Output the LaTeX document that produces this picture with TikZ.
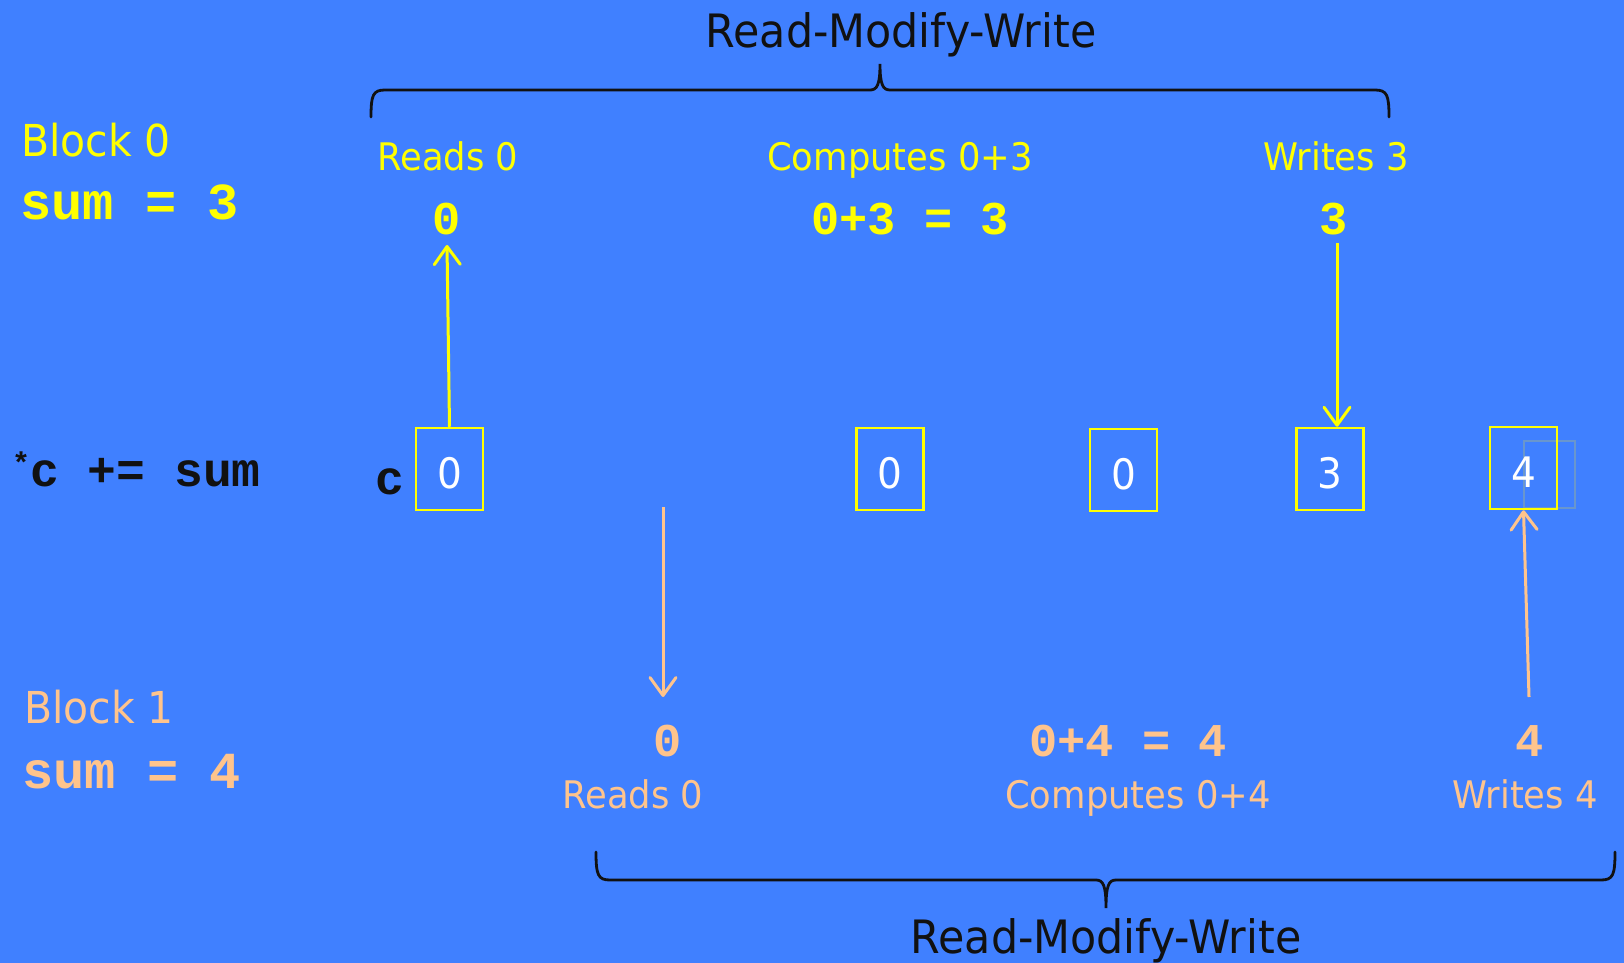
\documentclass[tikz,border=0pt]{standalone}
\usepackage{fontspec}
\setmainfont{DejaVu Sans}[FakeStretch=0.93]
\newfontfamily\monofont{Liberation Mono}
\usetikzlibrary{arrows.meta}
\definecolor{bg}{RGB}{64,128,255}
\definecolor{yel}{RGB}{255,255,0}
\definecolor{peach}{RGB}{255,196,140}
\definecolor{faintc}{RGB}{105,150,205}
\definecolor{ink}{RGB}{17,17,17}
\begin{document}
\begin{tikzpicture}[x=1pt,y=-1pt,
  txt/.style={anchor=base,inner sep=0pt},
  rmw/.style={txt,text=ink,font=\fontsize{46}{48}\selectfont},
  blk/.style={txt,anchor=base west,font=\fontsize{44}{46}\selectfont},
  lab/.style={txt,font=\fontsize{38}{40}\selectfont},
  summ/.style={txt,anchor=base west,font=\monofont\bfseries\fontsize{52}{54}\selectfont},
  val/.style={txt,font=\monofont\bfseries\fontsize{47}{50}\selectfont},
  cell/.style={draw=yel,line width=2.5pt,minimum width=67pt,minimum height=82pt,inner sep=0pt,text height=38pt,text depth=0pt,text=white,font=\fontsize{42}{44}\selectfont},
  yarrow/.style={draw=yel,line width=3pt,-{Straight Barb[length=18pt,width=26pt,round]}},
  oarrow/.style={draw=peach,line width=3pt,-{Straight Barb[length=18pt,width=26pt,round]}},
  bracec/.style={draw=ink,line width=2.8pt,line cap=round}]
\fill[bg] (0,0) rectangle (1624,963);
\useasboundingbox (0,0) rectangle (1624,963);
% braces
\draw[bracec] (371,117) .. controls (371,95) and (373,90) .. (385,90) -- (870,90)
  .. controls (877,90) and (880,85) .. (880,64) .. controls (880,85) and (883,90) .. (890,90)
  -- (1375,90) .. controls (1387,90) and (1389,95) .. (1389,117);
\draw[bracec] (596,852) .. controls (596,875) and (598,880) .. (610,880) -- (1096,880)
  .. controls (1103,880) and (1106,885) .. (1106,908) .. controls (1106,885) and (1109,880) .. (1116,880)
  -- (1601,880) .. controls (1613,880) and (1615,875) .. (1615,852);
\node[rmw] (rmw1) at (901,48) {Read-Modify-Write};
\node[rmw] (rmw2) at (1106,953) {Read-Modify-Write};
% block 0
\node[blk,text=yel] (blk0) at (21,157) {Block 0};
\node[summ,text=yel] (sum0) at (20,219) {sum = 3};
\node[lab,text=yel] (r0) at (448,170) {Reads 0};
\node[lab,text=yel] (c0) at (900,170) {Computes 0+3};
\node[lab,text=yel] (w0) at (1336,170) {Writes 3};
\node[val,text=yel] (v0) at (447,234) {0};
\node[val,text=yel] (v1) at (910,234) {0+3 = 3};
\node[val,text=yel] (v2) at (1334,234) {3};
% middle row
\node[txt,anchor=base west,text=ink,font=\monofont\bfseries\fontsize{48}{50}\selectfont] (cs) at (12,486)
  {{\fontsize{30}{30}\selectfont\raisebox{13pt}{*}}c += sum};
\node[txt,text=ink,font=\monofont\bfseries\fontsize{48}{50}\selectfont] (clab) at (390,494) {c};
\node[draw=faintc,line width=2pt,minimum width=51pt,minimum height=67pt,inner sep=0pt] (fb) at (1549.5,474.5) {};
\node[cell] (b1) at (449.5,469) {0};
\node[cell] (b2) at (890,469) {0};
\node[cell] (b3) at (1123.5,470) {0};
\node[cell] (b4) at (1330,469) {3};
\node[cell] (b5) at (1523.5,468) {4};
% block 1
\node[blk,text=peach] (blk1) at (24,723) {Block 1};
\node[summ,text=peach] (sum1) at (22,788) {sum = 4};
\node[val,text=peach] (ov0) at (668,756) {0};
\node[lab,text=peach] (or0) at (633,808) {Reads 0};
\node[val,text=peach] (ov1) at (1128,756) {0+4 = 4};
\node[lab,text=peach] (oc1) at (1138,808) {Computes 0+4};
\node[val,text=peach] (ov2) at (1530,756) {4};
\node[lab,text=peach] (ow1) at (1525,808) {Writes 4};
% arrows
\coordinate (u1) at (447,245);
\coordinate (d1) at (1337,243);
\coordinate (o1) at (663,507);
\coordinate (o2) at (663,697);
\coordinate (o3) at (1529,697);
\draw[yarrow] (b1.north) -- (u1);
\draw[yarrow] (d1) -- (b4.north -| d1);
\draw[oarrow] (o1) -- (o2);
\draw[oarrow] (o3) -- (b5.south);
\end{tikzpicture}
\end{document}
